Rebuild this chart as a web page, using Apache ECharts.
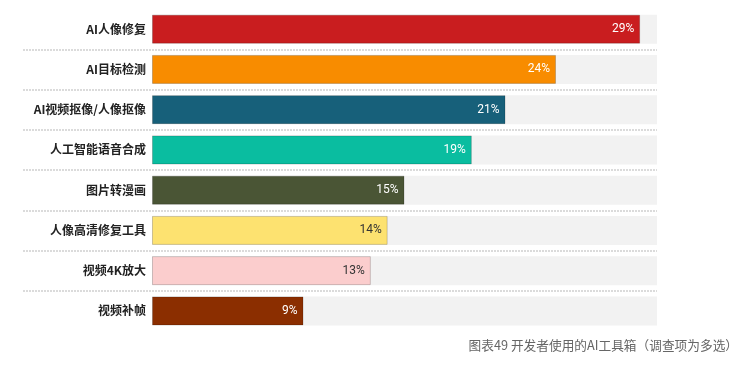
<!DOCTYPE html>
<html>
<head>
<meta charset="utf-8">
<script src="https://cdn.jsdelivr.net/npm/echarts@6/dist/echarts.min.js"></script>
<style>
html,body{margin:0;padding:0;background:#fff;}
#c{width:742px;height:366px;}
</style>
</head>
<body>
<div id="c"></div>
<script>
const categories = ['AI人像修复','AI目标检测','AI视频抠像/人像抠像','人工智能语音合成','图片转漫画','人像高清修复工具','视频4K放大','视频补帧'];
const values = [29, 24, 21, 19, 15, 14, 13, 9];
const barColors = ['#C91D1F','#F88C00','#17607A','#0ABDA0','#4A5535','#FDE270','#FBCDCD','#8B2E00'];
const labelColors = ['#fff','#fff','#fff','#fff','#fff','#333','#333','#fff'];
const axisMax = 30;
const caption = '图表49 开发者使用的AI工具箱（调查项为多选）';

const chart = echarts.init(document.getElementById('c'), null, {renderer:'canvas'});
chart.setOption({
  backgroundColor: '#fff',
  animation: false,
  title: {
    text: caption,
    right: 4, bottom: 14, padding: 0,
    textStyle: {fontSize: 12.7, fontWeight: 'normal', color: '#666', fontFamily: '"Noto Sans CJK SC", sans-serif'}
  },
  grid: [
    {left: 152, right: 85, top: 9, bottom: 35},
    {left: 23, right: 85, top: 9, bottom: 35}
  ],
  xAxis: [
    {type: 'value', gridIndex: 0, min: 0, max: axisMax, show: false},
    {type: 'value', gridIndex: 1, min: 0, max: axisMax, show: false}
  ],
  yAxis: [
    {
      type: 'category', gridIndex: 0, data: categories, inverse: true,
      axisLine: {show: false}, axisTick: {show: false}, splitLine: {show: false},
      axisLabel: {margin: 6, fontSize: 12, fontWeight: 'bold', color: '#222', fontFamily: '"Noto Sans CJK SC", sans-serif'}
    },
    {
      type: 'category', gridIndex: 1, data: categories, inverse: true,
      axisLine: {show: false}, axisTick: {show: false}, axisLabel: {show: false},
      splitLine: {show: true, showMinLine: false, showMaxLine: false,
        lineStyle: {type: [2, 1], color: '#d0d0d0', width: 1.5}}
    }
  ],
  series: [{
    type: 'bar',
    xAxisIndex: 0, yAxisIndex: 0,
    barWidth: 29,
    showBackground: true,
    backgroundStyle: {color: '#f2f2f2'},
    data: values.map((v, i) => ({
      value: v,
      itemStyle: {color: barColors[i], borderColor: 'rgba(0,0,0,0.18)', borderWidth: 1},
      label: {color: labelColors[i]}
    })),
    label: {
      show: true, position: 'insideRight', distance: 6,
      formatter: '{c}%', fontSize: 12, fontFamily: 'Roboto, sans-serif'
    }
  }]
});
</script>
</body>
</html>
